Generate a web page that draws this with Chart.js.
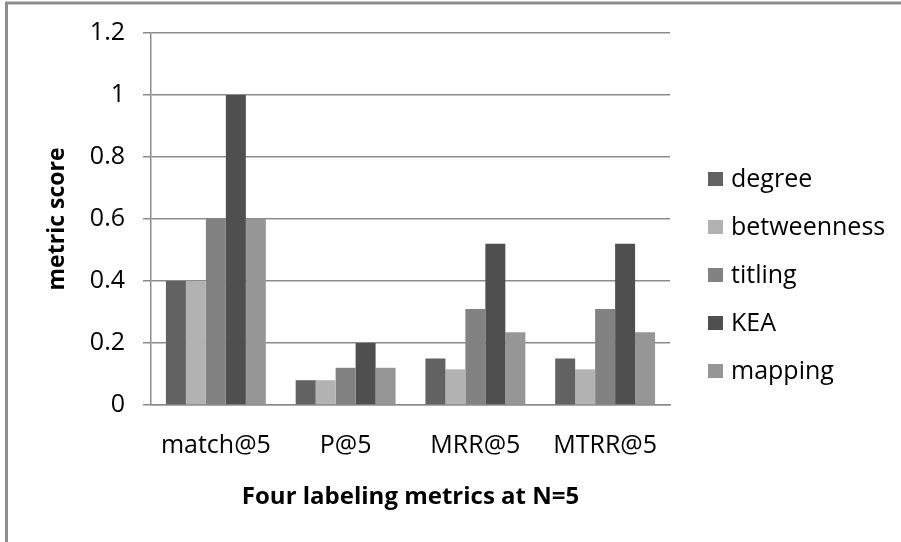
<!DOCTYPE html>
<html>
<head>
<meta charset="utf-8">
<script src="https://cdn.jsdelivr.net/npm/chart.js@4.4.1/dist/chart.umd.min.js"></script>
<style>
  html, body { margin: 0; padding: 0; background: #fff; }
  #chart { display: block; }
</style>
</head>
<body>
<canvas id="chart" width="901" height="542"></canvas>
<script>
const categories = ['match@5', 'P@5', 'MRR@5', 'MTRR@5'];
const seriesNames = ['degree', 'betweenness', 'titling', 'KEA', 'mapping'];
const degree = [0.4, 0.08, 0.15, 0.15];
const betweenness = [0.4, 0.08, 0.115, 0.115];
const titling = [0.6, 0.12, 0.31, 0.31];
const kea = [1.0, 0.2, 0.52, 0.52];
const mapping = [0.6, 0.12, 0.235, 0.235];
const yTickLabels = ['0', '0.2', '0.4', '0.6', '0.8', '1', '1.2'];

const colors = ['#626262', '#b2b2b2', '#828282', '#4f4f4f', '#969696'];
const values = [degree, betweenness, titling, kea, mapping];
const lineGray = '#8c8c8c';
const font = '"Open Sans", "DejaVu Sans", sans-serif';

// outer frame (only top and left edge show in the picture)
const framePlugin = {
  id: 'frame',
  beforeDraw(chart) {
    const ctx = chart.ctx;
    ctx.save();
    ctx.fillStyle = '#fff';
    ctx.fillRect(0, 0, chart.width, chart.height);
    ctx.strokeStyle = '#8e8e8e';
    ctx.lineWidth = 3;
    ctx.beginPath();
    ctx.moveTo(6.5, chart.height);
    ctx.lineTo(6.5, 3);
    ctx.lineTo(chart.width, 3);
    ctx.stroke();
    ctx.restore();
  }
};

// legend drawn to the right, like the spreadsheet one
const sideLegend = {
  id: 'sideLegend',
  afterDraw(chart) {
    const ctx = chart.ctx;
    ctx.save();
    ctx.font = '25px ' + font;
    ctx.textBaseline = 'middle';
    chart.data.datasets.forEach((ds, i) => {
      const cy = 179 + i * 48;
      ctx.fillStyle = ds.backgroundColor;
      ctx.fillRect(708, cy - 7, 15, 14);
      ctx.fillStyle = '#000';
      ctx.fillText(ds.label, 731, cy + 1);
    });
    ctx.restore();
  }
};

new Chart(document.getElementById('chart'), {
  type: 'bar',
  data: {
    labels: categories,
    datasets: seriesNames.map((name, i) => ({
      label: name,
      data: values[i],
      backgroundColor: colors[i],
      borderWidth: 0,
      categoryPercentage: 0.77,
      barPercentage: 1.0
    }))
  },
  options: {
    responsive: false,
    animation: false,
    layout: {
      autoPadding: false,
      padding: {top: 33, right: 231, bottom: 0, left: 0}
    },
    plugins: {
      legend: {display: false},
      tooltip: {enabled: false}
    },
    scales: {
      x: {
        afterFit: s => { s.height = 137; },
        grid: {display: false, drawTicks: false},
        border: {display: true, color: lineGray, width: 1.5},
        ticks: {
          color: '#000',
          padding: 26,
          font: {family: font, size: 25}
        },
        title: {
          display: true,
          text: 'Four labeling metrics at N=5',
          color: '#000',
          font: {family: font, size: 24, weight: 'bold'},
          padding: {top: 0, bottom: 30}
        }
      },
      y: {
        min: 0,
        max: 1.2,
        afterFit: s => { s.width = 151; },
        grid: {
          color: lineGray,
          lineWidth: 1.5,
          tickLength: 8,
          drawTicks: true
        },
        border: {display: true, color: lineGray, width: 1.5},
        ticks: {
          stepSize: 0.2,
          color: '#000',
          padding: 18,
          font: {family: font, size: 25},
          callback: (v, i) => yTickLabels[i]
        },
        title: {
          display: true,
          text: 'metric score',
          color: '#000',
          font: {family: font, size: 23, weight: 'bold'},
          padding: {top: 44, bottom: 0}
        }
      }
    }
  },
  plugins: [framePlugin, sideLegend]
});
</script>
</body>
</html>
